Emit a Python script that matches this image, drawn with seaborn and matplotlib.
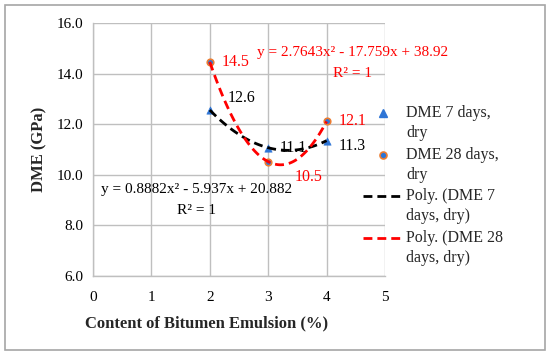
import numpy as np
import pandas as pd
import matplotlib.pyplot as plt
import seaborn as sns
from matplotlib.patches import Rectangle
from matplotlib.lines import Line2D

# --- DATA ---
CONTENT = [2, 3, 4]
DME_7 = [12.56, 11.07, 11.35]
DME_28 = [14.46, 10.52, 12.11]
LABELS_7 = ["12.6", "11.1", "11.3"]
LABELS_28 = ["14.5", "10.5", "12.1"]
EQ_7 = "y = 0.8882x² - 5.937x + 20.882"
EQ_28 = "y = 2.7643x² - 17.759x + 38.92"
LEGEND_LABELS = [["DME 7 days,", "dry"], ["DME 28 days,", "dry"],
                 ["Poly. (DME 7", "days, dry)"], ["Poly. (DME 28", "days, dry)"]]

BLUE = "#2E75D6"
ORANGE = "#ED7D31"
RED = "#FF0000"
GRID = "#BFBFBF"
DASH = (0, (3.2, 1.8))
W, H = 550, 355

sns.set_theme(style="whitegrid")
plt.rcParams['font.family'] = ['Liberation Serif', 'DejaVu Serif']

df = pd.DataFrame({'x': CONTENT, 'd7': DME_7, 'd28': DME_28})

# quadratic trendlines through the points
xs = np.linspace(min(CONTENT), max(CONTENT), 100)
fit7 = np.poly1d(np.polyfit(CONTENT, DME_7, 2))
fit28 = np.poly1d(np.polyfit(CONTENT, DME_28, 2))
trend = pd.DataFrame({'x': xs, 't7': fit7(xs), 't28': fit28(xs)})

fig = plt.figure(figsize=(5.5, 3.55), dpi=100)
ax = fig.add_axes([93 / W, 1 - 276 / H, 292 / W, 253 / H])
ax.set_facecolor("white")

sns.scatterplot(data=df, x='x', y='d7', ax=ax, marker='^', color=BLUE,
                s=28, edgecolor=BLUE, zorder=2.5)
sns.scatterplot(data=df, x='x', y='d28', ax=ax, marker='o', color=BLUE,
                s=22, edgecolor=ORANGE, linewidth=1.2, zorder=2.5)
sns.lineplot(data=trend, x='x', y='t7', ax=ax, color='black', lw=2.0,
             linestyle=DASH, zorder=3)
sns.lineplot(data=trend, x='x', y='t28', ax=ax, color=RED, lw=2.0,
             linestyle=DASH, zorder=3)

# data labels (offsets in pixels)
off7 = [(18, 12), (11, 0), (12, -5)]
off28 = [(12, 0), (26, -15), (12, 0)]
for x, v, lab, o in zip(CONTENT, DME_7, LABELS_7, off7):
    ax.annotate(lab, (x, v), xytext=o, textcoords='offset pixels',
                fontsize=11.5, color='black', va='center', ha='left')
for x, v, lab, o in zip(CONTENT, DME_28, LABELS_28, off28):
    ax.annotate(lab, (x, v), xytext=o, textcoords='offset pixels',
                fontsize=11.5, color=RED, va='center', ha='left')

ax.text(4.45, 14.85, EQ_28, color=RED, fontsize=11, ha='center', va='center')
ax.text(4.45, 14.02, "R² = 1", color=RED, fontsize=11, ha='center', va='center')
ax.text(1.78, 9.40, EQ_7, color='black', fontsize=11, ha='center', va='center')
ax.text(1.78, 8.57, "R² = 1", color='black', fontsize=11, ha='center', va='center')

ax.set_xlim(0, 5)
ax.set_ylim(6, 16)
ax.set_xticks(range(0, 6))
ax.set_yticks(np.arange(6, 17, 2))
ax.set_yticklabels([f"{v:.1f}" for v in np.arange(6, 17, 2)])
ax.tick_params(axis='both', labelsize=11, colors='black', length=4,
               color=GRID, direction='out', pad=3)
ax.tick_params(axis='x', pad=7)
ax.grid(True, color=GRID, lw=1)
for s in ['top', 'right']:
    ax.spines[s].set_visible(False)
for s in ['left', 'bottom']:
    ax.spines[s].set_color(GRID)
    ax.spines[s].set_linewidth(1)

ax.set_xlabel("Content of Bitumen Emulsion (%)", fontsize=12,
              fontweight='bold')
ax.xaxis.set_label_coords(114 / 292, -39 / 253)
ax.set_ylabel("DME (GPa)", fontsize=12, fontweight='bold', labelpad=7)

# legend, drawn by hand so the keys sit on the first line of each label
handles = [
    Line2D([383 / W], [0], marker='^', color=BLUE, ls='none', markersize=6),
    Line2D([383 / W], [0], marker='o', color=BLUE, markeredgecolor=ORANGE,
           markeredgewidth=1.2, ls='none', markersize=5),
    Line2D([363 / W, 403 / W], [0, 0], color='black', lw=2.0, ls=DASH),
    Line2D([363 / W, 403 / W], [0, 0], color=RED, lw=2.0, ls=DASH),
]
for i, (h, lines) in enumerate(zip(handles, LEGEND_LABELS)):
    yc = 1 - (113 + 41.7 * i) / H
    h.set_ydata([yc] * len(h.get_xdata()))
    h.set_transform(fig.transFigure)
    fig.add_artist(h)
    for j, t in enumerate(lines):
        fig.text(406 / W, yc - j * 20 / H, t, fontsize=11.5, ha='left',
                 va='center')

fig.patches.append(Rectangle((5 / W, 5 / H), 540 / W, 345 / H,
                             transform=fig.transFigure, fill=False,
                             edgecolor='#A6A6A6', lw=1.2))

fig.savefig("out.png", dpi=100)
